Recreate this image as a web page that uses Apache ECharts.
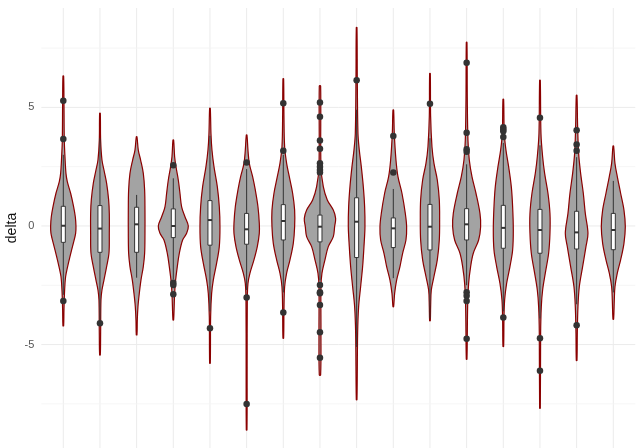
<!DOCTYPE html>
<html>
<head>
<meta charset="utf-8">
<script src="https://cdn.jsdelivr.net/npm/echarts@6/dist/echarts.min.js"></script>
<style>
html,body{margin:0;padding:0;background:#fff;}
#main{width:642px;height:448px;}
</style>
</head>
<body>
<div id="main"></div>
<script>
// groups on the x axis (no labels shown in the picture)
let groups=['1','2','3','4','5','6','7','8','9','10','11','12','13','14','15','16'];

// violin outlines: [delta, density] from top to bottom, density read as relative width
let violins=[
    [[6.32,1],[5.3,2],[3.6,3],[2.92,5],[2.22,8],[1.87,12],[1.38,22],[0.81,31],[0.39,36],[0,38],[-0.31,37],[-0.73,30],[-1.29,20],[-1.71,13],[-2.13,7],[-2.7,4],[-3.54,2],[-4.21,1]],
    [[4.75,1],[3.62,2],[2.78,6],[2.36,12],[1.8,20],[1.1,26],[0.53,28],[-0.31,28],[-1.15,27],[-1.71,20],[-2.28,12],[-2.7,6],[-3.12,3],[-4.52,2],[-5.44,1]],
    [[3.76,1],[3.2,5],[2.78,12],[2.22,20],[1.52,24],[0.67,25],[-0.31,25],[-1.15,24],[-1.71,20],[-2.28,13],[-2.84,8],[-3.4,4],[-3.96,2],[-4.59,1]],
    [[3.62,1],[2.92,4],[2.5,8],[1.94,15],[1.38,20],[0.81,25],[0.39,35],[0,45],[-0.31,40],[-0.59,28],[-1.15,18],[-1.71,12],[-2.28,7],[-2.84,4],[-3.96,1]],
    [[4.96,1],[3.9,3],[3.2,6],[2.5,12],[1.66,22],[0.81,28],[-0.03,30],[-0.87,28],[-1.57,20],[-2.28,10],[-2.84,5],[-3.82,2],[-5.79,1]],
    [[3.83,1],[3.2,4],[2.64,8],[2.08,18],[1.52,26],[0.81,34],[0.11,38],[-0.31,38],[-0.87,32],[-1.43,22],[-1.99,10],[-2.42,4],[-3.12,2],[-5.93,1.5],[-8.6,1]],
    [[6.21,1],[4.61,2],[3.34,4],[2.64,10],[2.08,18],[1.38,28],[0.67,34],[-0.03,34],[-0.73,30],[-1.43,20],[-1.99,10],[-2.56,4],[-3.54,2],[-4.73,1]],
    [[5.9,2],[2.5,3],[1.66,10],[1.1,22],[0.67,40],[0.32,47],[-0.03,44],[-0.45,40],[-0.87,25],[-1.43,15],[-1.99,6],[-2.56,3],[-4.52,3],[-6.28,2]],
    [[8.37,1],[6.15,2],[3.9,4],[3.2,8],[2.5,14],[1.66,20],[0.81,24],[-0.03,25],[-0.87,22],[-1.71,18],[-2.56,12],[-3.4,6],[-4.52,3],[-7.33,1]],
    [[4.89,1],[3.9,3],[2.78,8],[2.08,14],[1.38,26],[0.53,36],[-0.03,40],[-0.59,38],[-1.15,28],[-1.71,20],[-2.28,10],[-2.84,4],[-3.4,1]],
    [[6.43,1],[4.61,2],[3.34,6],[2.64,12],[1.94,22],[1.1,28],[0.25,29],[-0.59,28],[-1.43,22],[-2.13,12],[-2.7,4],[-3.4,2],[-3.99,1]],
    [[7.74,1],[5.31,2],[3.62,4],[2.78,8],[2.08,16],[1.38,28],[0.53,40],[-0.03,42],[-0.59,36],[-1.15,20],[-1.71,12],[-2.42,6],[-3.4,3],[-5.62,1]],
    [[5.34,1],[3.9,3],[3.2,8],[2.5,16],[1.66,24],[0.81,28],[-0.17,30],[-1.01,28],[-1.71,20],[-2.42,10],[-3.12,4],[-3.96,2],[-5.08,1]],
    [[6.14,1],[3.9,3],[2.92,8],[2.22,14],[1.38,24],[0.53,30],[-0.31,30],[-1.15,26],[-1.99,16],[-2.7,8],[-3.4,4],[-4.52,2],[-7.68,1]],
    [[5.51,1],[4.19,3],[3.06,6],[2.22,12],[1.38,20],[0.53,26],[-0.31,34],[-0.87,28],[-1.71,18],[-2.56,8],[-3.4,4],[-4.52,2],[-5.67,1]],
    [[3.37,1],[2.64,5],[2.08,12],[1.38,22],[0.67,32],[-0.03,36],[-0.73,32],[-1.43,22],[-1.99,12],[-2.56,5],[-3.12,3],[-3.93,1]]
];

// box plot stats
let q1=[-0.69,-1.11,-1.11,-0.49,-0.81,-0.77,-0.59,-0.67,-1.33,-0.91,-1.01,-0.59,-0.94,-1.15,-0.97,-1.0];
let median=[0.01,-0.11,0.07,0,0.25,-0.14,0.21,-0.03,0.18,-0.1,-0.03,0.07,-0.08,-0.17,-0.27,-0.17];
let q3=[0.83,0.86,0.79,0.72,1.07,0.53,0.9,0.46,1.19,0.34,0.91,0.73,0.87,0.7,0.62,0.53];
let whiskLo=[-2.9,-4.0,-2.18,-2.25,-3.6,-2.7,-2.8,-2.3,-5.1,-2.2,-3.9,-2.5,-3.6,-3.9,-3.3,-2.8];
let whiskHi=[3.0,3.7,1.31,2.01,3.8,2.4,3.0,2.1,4.9,1.56,3.7,2.6,3.5,3.4,2.9,1.9];

// outliers: [group number, delta]
let outliers=[
    [1,5.28],[1,3.67],[1,-3.16],
    [2,-4.1],
    [4,2.56],[4,-2.39],[4,-2.49],[4,-2.88],
    [5,-4.31],
    [6,2.68],[6,-3.02],[6,-7.5],
    [7,5.17],[7,3.17],[7,-3.65],
    [8,5.21],[8,4.61],[8,3.6],[8,3.26],[8,2.64],[8,2.5],[8,2.36],[8,2.25],[8,-2.49],[8,-2.79],[8,-2.84],[8,-3.33],[8,-4.48],[8,-5.56],
    [9,6.14],
    [10,3.79],[10,2.26],
    [11,5.15],
    [12,6.88],[12,3.93],[12,3.24],[12,3.13],[12,-2.79],[12,-2.94],[12,-3.16],[12,-4.75],
    [13,4.16],[13,4.07],[13,3.99],[13,3.75],[13,-3.86],
    [14,4.56],[14,-4.73],[14,-6.1],
    [15,4.04],[15,3.44],[15,3.17],[15,-4.19]
];

let yTicks=[-5,0,5];
let yMinor=[-7.5,-2.5,2.5,7.5];

const DENS_TO_X=1/110;   // density reading -> x units
const BOX_HALF=0.055;

let myChart=echarts.init(document.getElementById('main'));

// background grid lines (theme_minimal look)
function gridItem(params,api){
    let cs=params.coordSys;
    let d=gridData[params.dataIndex];
    let shape;
    if(d[0]=='x'){
        let p=api.coord([d[1],0]);
        shape={x1:p[0],y1:cs.y,x2:p[0],y2:cs.y+cs.height};
    }else{
        let p=api.coord([1,d[1]]);
        shape={x1:cs.x,y1:p[1],x2:cs.x+cs.width,y2:p[1]};
    }
    return {type:'line',shape:shape,style:{stroke:d[2]?'#ebebeb':'#f2f2f2',lineWidth:d[2]?1:0.8}};
}
let gridData=[];
groups.forEach(function(g,i){gridData.push(['x',i+1,true]);});
yTicks.forEach(function(v){gridData.push(['y',v,true]);});
yMinor.forEach(function(v){gridData.push(['y',v,false]);});

function violinItem(params,api){
    let i=params.dataIndex;
    let x=i+1;
    let prof=violins[i];
    let pts=[];
    for(let k=0;k<prof.length;k++){
        pts.push(api.coord([x+prof[k][1]*DENS_TO_X,prof[k][0]]));
    }
    for(let k=prof.length-1;k>=0;k--){
        pts.push(api.coord([x-prof[k][1]*DENS_TO_X,prof[k][0]]));
    }
    return {
        type:'polygon',
        shape:{points:pts,smooth:0.35},
        style:{fill:'#a3a3a3',stroke:'#8b0000',lineWidth:1.2}
    };
}

function boxItem(params,api){
    let i=params.dataIndex;
    let x=i+1;
    let lo=api.coord([x,whiskLo[i]]);
    let hi=api.coord([x,whiskHi[i]]);
    let a=api.coord([x-BOX_HALF,q3[i]]);
    let b=api.coord([x+BOX_HALF,q1[i]]);
    let m1=api.coord([x-BOX_HALF,median[i]]);
    let m2=api.coord([x+BOX_HALF,median[i]]);
    let ln={stroke:'#333',lineWidth:1};
    return {
        type:'group',
        children:[
            {type:'line',shape:{x1:hi[0],y1:hi[1],x2:hi[0],y2:a[1]},style:ln},
            {type:'line',shape:{x1:lo[0],y1:lo[1],x2:lo[0],y2:b[1]},style:ln},
            {type:'rect',shape:{x:a[0],y:a[1],width:b[0]-a[0],height:b[1]-a[1]},style:{fill:'#fff',stroke:'#333',lineWidth:1}},
            {type:'line',shape:{x1:m1[0],y1:m1[1],x2:m2[0],y2:m2[1]},style:{stroke:'#333',lineWidth:2}}
        ]
    };
}

let option={
    animation:false,
    grid:{left:41.3,right:6.7,top:8,bottom:0,containLabel:false,outerBoundsMode:'none'},
    xAxis:{
        type:'value',
        min:0.4,
        max:16.6,
        axisLine:{show:false},
        axisTick:{show:false},
        axisLabel:{show:false},
        splitLine:{show:false}
    },
    yAxis:{
        type:'value',
        min:-9.36,
        max:9.19,
        name:'delta',
        nameLocation:'middle',
        nameRotate:90,
        nameGap:22,
        nameMoveOverlap:false,
        nameTextStyle:{fontSize:14,color:'#111',fontFamily:'Liberation Sans, Arial, sans-serif'},
        axisLine:{show:false},
        axisTick:{show:false},
        splitLine:{show:false},
        axisLabel:{
            customValues:yTicks,
            margin:7,
            fontSize:11,
            color:'#555',
            fontFamily:'Liberation Sans, Arial, sans-serif'
        }
    },
    series:[
        {
            type:'custom',
            name:'grid',
            silent:true,
            z:0,
            renderItem:gridItem,
            data:gridData.map(function(d,i){return [i];})
        },
        {
            type:'custom',
            name:'violin',
            z:2,
            renderItem:violinItem,
            data:groups.map(function(g,i){return [i+1];})
        },
        {
            type:'custom',
            name:'box',
            z:3,
            renderItem:boxItem,
            data:groups.map(function(g,i){return [i+1];})
        },
        {
            type:'scatter',
            name:'outlier',
            z:4,
            symbol:'circle',
            symbolSize:6.5,
            itemStyle:{color:'#333',opacity:1},
            data:outliers
        }
    ]
};

myChart.setOption(option);
</script>
</body>
</html>
